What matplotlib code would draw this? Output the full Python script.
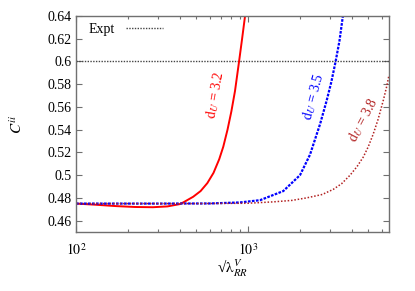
import matplotlib
matplotlib.use("Agg")
import matplotlib.pyplot as plt
from matplotlib.ticker import LogLocator, NullFormatter, FixedLocator

plt.rcParams['font.family'] = ['Liberation Serif', 'DejaVu Serif']
plt.rcParams['mathtext.fontset'] = 'stix'

# Data
x_red = [100, 130, 170, 220, 280, 340, 400, 420, 480, 530, 580, 630, 680, 718, 760, 800, 840, 887, 922, 961]
y_red = [0.4750, 0.4740, 0.4728, 0.4720, 0.4718, 0.4725, 0.4745, 0.4760, 0.4810, 0.4860, 0.4930, 0.5020,
         0.5140, 0.5250, 0.5400, 0.5560, 0.5740, 0.6000, 0.6190, 0.6400]

x_blue = [100, 300, 600, 898, 1175, 1603, 2005, 2292, 2624, 2870, 3050, 3230, 3400, 3560]
y_blue = [0.4750, 0.4750, 0.4751, 0.4760, 0.4780, 0.4860, 0.5000, 0.5180, 0.5450, 0.5660, 0.5820, 0.6000,
          0.6180, 0.6400]

x_brown = [100, 500, 1000, 1400, 1800, 2190, 2700, 3130, 3500, 3920, 4300, 4680, 5000, 5340, 5700, 6120, 6400, 6600]
y_brown = [0.4750, 0.4750, 0.4753, 0.4765, 0.4778, 0.4800, 0.4830, 0.4875, 0.4925, 0.5000, 0.5075, 0.5160,
           0.5250, 0.5360, 0.5490, 0.5660, 0.5780, 0.5880]

expt_value = 0.6
labels = [r'$\mathrm{d}_{U}$ = 3.2', r'$\mathrm{d}_{U}$ = 3.5', r'$\mathrm{d}_{U}$ = 3.8']

fig = plt.figure(figsize=(4.15, 2.91), dpi=100)
ax = fig.add_axes([76/415, 1-232/291, (389-76)/415, (232-16)/291])

ax.axhline(expt_value, color='#444444', lw=1.0, ls=(0, (1, 1)), label='Expt')
ax.plot(x_red, y_red, color='#ff0000', lw=1.4)
ax.plot(x_blue, y_blue, color='#0000ff', lw=1.6, ls=(0, (1.2, 0.6)))
ax.plot(x_brown, y_brown, color='#b22222', lw=1.1, ls=(0, (1, 1.2)))

ax.set_xscale('log')
ax.set_xlim(100, 6600)
ax.set_ylim(0.45, 0.64)
ax.set_yticks([0.46, 0.48, 0.5, 0.52, 0.54, 0.56, 0.58, 0.6, 0.62, 0.64])
ax.set_yticklabels(['0.46', '0.48', '0.5', '0.52', '0.54', '0.56', '0.58', '0.6', '0.62', '0.64'])
ax.xaxis.set_major_locator(FixedLocator([100, 1000]))
ax.set_xticklabels([r'$10^{2}$', r'$10^{3}$'])
ax.xaxis.set_minor_locator(LogLocator(base=10, subs=range(2, 10)))
ax.xaxis.set_minor_formatter(NullFormatter())

for s in ax.spines.values():
    s.set_color('#707070')
    s.set_linewidth(1.0)
ax.tick_params(which='both', direction='in', top=True, right=True, colors='#707070',
               labelcolor='black', labelsize=10)
ax.tick_params(which='major', length=4, width=0.8)
ax.tick_params(which='minor', length=2.5, width=0.8)
ax.tick_params(axis='x', which='major', pad=7)

ax.set_xlabel('\u221a' + r'$\mathrm{\lambda}_{RR}^{V}$', fontsize=11, labelpad=0)
ax.set_ylabel(r'$C^{ii}$', fontsize=11, labelpad=16)

ax.text(643, 0.5706, labels[0], color='#ff0000', rotation=80, fontsize=10, ha='center', va='center')
ax.text(2400, 0.569, labels[1], color='#0000ff', rotation=75, fontsize=10, ha='center', va='center')
ax.text(4670, 0.549, labels[2], color='#b22222', rotation=62, fontsize=10, ha='center', va='center')

ax.legend(loc='upper left', frameon=False, markerfirst=False, fontsize=10,
          handlelength=2.6, borderaxespad=0.2, bbox_to_anchor=(0.015, 1.005))

fig.savefig('out.png', dpi=100)
